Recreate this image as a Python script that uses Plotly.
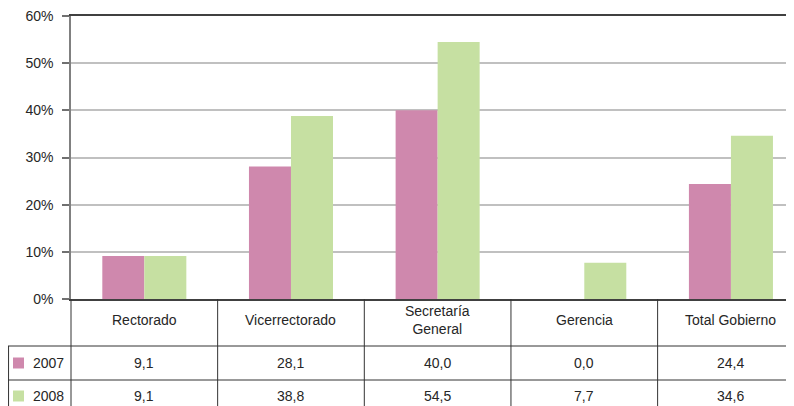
import plotly.graph_objects as go

categories = ["Rectorado", "Vicerrectorado", "Secretaría<br>General", "Gerencia", "Total Gobierno"]
years = ["2007", "2008"]
values_2007 = [9.1, 28.1, 40.0, 0.0, 24.4]
values_2008 = [9.1, 38.8, 54.5, 7.7, 34.6]
y_ticks = [0, 10, 20, 30, 40, 50, 60]
y_tick_labels = [f"{v}%" for v in y_ticks]

colors = ["#CF88AD", "#C6E0A2"]
OFF = 8  # page body margin
W, H = 794 - OFF, 406 - OFF
TOP = 16 - OFF

def py(pix):
    # reference pixel y -> paper y
    return (406 - pix) / (406 - 16)

def px(pix):
    return max(pix - OFF, 0) / W

xpos = list(range(len(categories)))

fig = go.Figure()
for name, vals, col in [(years[0], values_2007, colors[0]), (years[1], values_2008, colors[1])]:
    fig.add_trace(go.Bar(x=xpos, y=vals, name=name, marker=dict(color=col, line=dict(width=0)),
                         showlegend=False, hoverinfo="y"))

font = dict(family="Liberation Sans, Arial, sans-serif", size=14, color="#262626")

fig.update_layout(
    width=W, height=H,
    margin=dict(l=0, r=0, t=TOP, b=0),
    paper_bgcolor="white", plot_bgcolor="white",
    barmode="group", bargap=0.427, bargroupgap=0,
    font=font,
    xaxis=dict(domain=[px(71), 1], range=[-0.5, 4.43], showticklabels=False, ticks="",
               showgrid=False, zeroline=False, showline=True, linecolor="#404040", linewidth=1.5,
               mirror=True, fixedrange=True),
    yaxis=dict(domain=[py(299), 1], range=[0, 60], tickvals=y_ticks, ticktext=y_tick_labels,
               ticks="outside", ticklen=7, tickcolor="#707070", tickwidth=1.5,
               ticklabelstandoff=6, ticklabeloverflow="allow",
               showgrid=True, gridcolor="#C0C0C0", gridwidth=1.5, zeroline=False,
               showline=True, linecolor="#808080", linewidth=1.5, automargin=False,
               tickfont=font, fixedrange=True),
)

line_style = dict(color="#333333", width=1)
for ypix in [346, 380]:
    fig.add_shape(type="line", xref="paper", yref="paper", x0=px(7), x1=1, y0=py(ypix), y1=py(ypix),
                  line=line_style)
fig.add_shape(type="line", xref="paper", yref="paper", x0=0.0007, x1=0.0007, y0=py(346), y1=0, line=line_style)
fig.add_shape(type="line", xref="paper", yref="paper", x0=px(71), x1=px(71), y0=py(299), y1=0, line=line_style)
for i in range(len(categories) - 1):
    fig.add_shape(type="line", xref="x", yref="paper", x0=i + 0.5, x1=i + 0.5, y0=py(299), y1=0,
                  line=line_style)

for i, c in enumerate(categories):
    fig.add_annotation(x=i, y=py(320), xref="x", yref="paper", text=c, showarrow=False,
                       font=font, xanchor="center", yanchor="middle")

rows = [(values_2007, 363, colors[0], years[0]), (values_2008, 396, colors[1], years[1])]
for vals, ycen, col, label in rows:
    for i, v in enumerate(vals):
        fig.add_annotation(x=i, y=py(ycen), xref="x", yref="paper",
                           text=f"{v:.1f}".replace(".", ","), showarrow=False, font=font,
                           xanchor="center", yanchor="middle")
    fig.add_shape(type="rect", xref="paper", yref="paper", x0=px(13), x1=px(24),
                  y0=py(ycen - 5.5), y1=py(ycen + 5.5), fillcolor=col, line=dict(width=0))
    fig.add_annotation(x=px(48), y=py(ycen), xref="paper", yref="paper", text=label, showarrow=False,
                       font=font, xanchor="center", yanchor="middle")

fig.write_html("out.html")
